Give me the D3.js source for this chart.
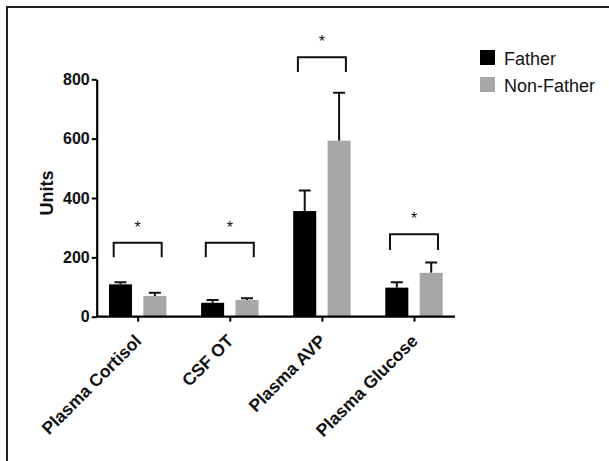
<!DOCTYPE html>
<html>
<head>
<meta charset="utf-8">
<script src="https://cdn.jsdelivr.net/npm/d3@7"></script>
<style>
  html, body { margin: 0; background: #fff; overflow: hidden; }
  svg { display: block; }
  svg text { font-family: "Liberation Sans", Arial, Helvetica, sans-serif; }
</style>
</head>
<body>
<div id="chart"></div>
<script>
// Chart data
const categories = ["Plasma Cortisol", "CSF OT", "Plasma AVP", "Plasma Glucose"];
const groups = ["Father", "Non-Father"];
const fatherMean = [109, 47, 356, 98];
const fatherErr = [7, 9, 69, 18];
const nonFatherMean = [70, 56, 593, 148];
const nonFatherErr = [11, 6, 162, 35];
const yTicks = [0, 200, 400, 600, 800];
// significance brackets: top level of each bracket (in units)
const bracketLevel = [249, 249, 874, 278];
const bracketLeg = [49, 49, 49, 53];

const colors = { "Father": "#000000", "Non-Father": "#a7a7aa" };

const width = 609, height = 461;
const plot = { left: 96.7, right: 455, top: 79.3, bottom: 316.7 };

const svg = d3.select("#chart")
    .append("svg")
    .attr("width", width)
    .attr("height", height);

// outer frame (only top and left edges are visible in the original)
svg.append("path")
    .attr("d", `M7,${height} V7 H${width}`)
    .attr("fill", "none")
    .attr("stroke", "#222")
    .attr("stroke-width", 2);

// scales
const x = d3.scalePoint()
    .domain(categories)
    .range([plot.left, plot.right])
    .padding(0.445);

const xInner = d3.scaleBand()
    .domain(groups)
    .range([-28.7, 28.7])
    .paddingInner(0.33);

const y = d3.scaleLinear()
    .domain([0, 800])
    .range([plot.bottom, plot.top]);

// bars data
const rows = [];
categories.forEach((c, i) => {
    rows.push({ cat: c, group: "Father", mean: fatherMean[i], err: fatherErr[i] });
    rows.push({ cat: c, group: "Non-Father", mean: nonFatherMean[i], err: nonFatherErr[i] });
});

// error bars (upper only), drawn behind bars
const eb = svg.append("g")
    .attr("stroke", "#111")
    .attr("stroke-width", 2)
    .attr("fill", "none");

eb.selectAll("path")
    .data(rows)
    .enter()
    .append("path")
    .attr("d", d => {
        const cx = x(d.cat) + xInner(d.group) + xInner.bandwidth() / 2;
        const yt = y(d.mean + d.err);
        return `M${cx},${y(d.mean)} V${yt} M${cx - 6},${yt} H${cx + 6}`;
    });

svg.selectAll(".bar")
    .data(rows)
    .enter()
    .append("rect")
    .attr("class", "bar")
    .attr("x", d => x(d.cat) + xInner(d.group))
    .attr("width", xInner.bandwidth())
    .attr("y", d => y(d.mean))
    .attr("height", d => y(0) - y(d.mean))
    .attr("fill", d => colors[d.group]);

// y axis
const yAxis = svg.append("g")
    .attr("transform", `translate(${plot.left},0)`)
    .call(d3.axisLeft(y).tickValues(yTicks).tickSize(5).tickPadding(2).tickSizeOuter(0));

yAxis.select(".domain").attr("stroke", "#000").attr("stroke-width", 2.2);
yAxis.selectAll(".tick line").attr("stroke", "#000").attr("stroke-width", 2);
yAxis.selectAll("text")
    .attr("fill", "#111")
    .style("font-size", "16px")
    .style("font-weight", "bold");

// x axis
const xAxis = svg.append("g")
    .attr("transform", `translate(0,${plot.bottom})`)
    .call(d3.axisBottom(x).tickSize(5).tickSizeOuter(0));

xAxis.select(".domain")
    .attr("d", `M${plot.left},0H${plot.right}`)
    .attr("stroke", "#000")
    .attr("stroke-width", 2.2);
xAxis.selectAll(".tick line").attr("stroke", "#000").attr("stroke-width", 2);
xAxis.selectAll("text")
    .attr("fill", "#111")
    .attr("text-anchor", "end")
    .attr("x", 0)
    .attr("y", 0)
    .attr("dy", "0.35em")
    .attr("transform", "translate(0,21) rotate(-45)")
    .style("font-size", "17.5px")
    .style("font-weight", "bold");

// y axis title
svg.append("text")
    .attr("transform", `translate(53,193) rotate(-90)`)
    .attr("text-anchor", "middle")
    .attr("fill", "#111")
    .style("font-size", "18px")
    .style("font-weight", "bold")
    .text("Units");

// significance brackets
const br = svg.append("g");
categories.forEach((c, i) => {
    const cx = x(c);
    const top = y(bracketLevel[i]);
    const bot = y(bracketLevel[i] - bracketLeg[i]);
    br.append("path")
        .attr("d", `M${cx - 24},${bot} V${top} H${cx + 24} V${bot}`)
        .attr("fill", "none")
        .attr("stroke", "#111")
        .attr("stroke-width", 2);
    br.append("text")
        .attr("x", cx)
        .attr("y", top - 10)
        .attr("text-anchor", "middle")
        .attr("fill", "#111")
        .style("font-size", "16px")
        .text("*");
});

// legend
const legend = svg.append("g")
    .attr("transform", "translate(480,50)");

const li = legend.selectAll("g")
    .data(groups)
    .enter()
    .append("g")
    .attr("transform", (d, i) => `translate(0,${i * 27})`);

li.append("rect")
    .attr("width", 15)
    .attr("height", 15)
    .attr("fill", d => colors[d]);

li.append("text")
    .attr("x", 24)
    .attr("y", 15)
    .attr("fill", "#111")
    .style("font-size", "18px")
    .text(d => d);
</script>
</body>
</html>
